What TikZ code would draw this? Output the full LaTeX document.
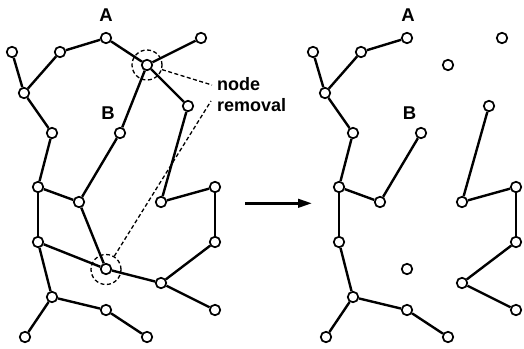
\documentclass[tikz,border=0pt]{standalone}
\usepackage{fontspec}
\setmainfont{Liberation Sans}
\usetikzlibrary{arrows.meta}
\begin{document}
\begin{tikzpicture}[x=1pt,y=-1pt,
  vert/.style={circle,draw=black,fill=white,line width=1.7pt,inner sep=0pt,minimum size=10.5pt},
  edge/.style={line width=2.4pt},
  ring/.style={circle,draw=black,dashed,dash pattern=on 4pt off 2.5pt,line width=1.3pt,inner sep=0pt,minimum size=30pt},
  pointer/.style={dashed,dash pattern=on 4pt off 2.5pt,line width=1.3pt},
  lbl/.style={font=\fontsize{18.5}{21}\selectfont\bfseries,inner sep=0pt,anchor=base},
  ann/.style={font=\fontsize{18}{21}\selectfont\bfseries,inner sep=0pt,anchor=base west},
  bigarrow/.style={line width=2.7pt,-{Triangle[length=14pt,width=8.5pt]}}]
\useasboundingbox (0,0) rectangle (524,348);
\fill[white] (0,0) rectangle (524,348);
% nodes of both graphs
\foreach \n/\x/\y in {1/12/52,2/60/52,3/106/38,4/201/38,h1/147/65,5/24/93,6/188/106,7/52/133,8/120/133,
  9/38/187,10/79/202,11/161/202,12/215/187,13/38/242,14/215/242,h2/106/269,15/161/283,
  16/52/297,17/106/310,18/215/310,19/25/337,20/147/337}{
  \node[vert] (L\n) at (\x,\y) {};
  \node[vert] (R\n) at (\x+301,\y) {};
}
% edges of the left graph
\foreach \a/\b in {1/5,5/2,2/3,3/h1,h1/4,5/7,h1/8,h1/6,7/9,8/10,6/11,11/12,12/14,9/10,9/13,10/h2,13/h2,h2/15,14/15,15/18,13/16,16/19,16/17,17/20}{
  \draw[edge] (L\a) -- (L\b);
}
% edges of the right graph (hubs removed)
\foreach \a/\b in {1/5,5/2,2/3,5/7,8/10,6/11,11/12,12/14,9/10,7/9,9/13,14/15,15/18,13/16,16/19,16/17,17/20}{
  \draw[edge] (R\a) -- (R\b);
}
% removal marks
\node[ring] (c1) at (147,65) {};
\node[ring] (c2) at (106,269.5) {};
\coordinate (t1) at (212,85);
\coordinate (t2) at (211,101);
\draw[pointer] (c1) -- (t1);
\draw[pointer] (c2) -- (t2);
\node[ann] (tnode) at (217,90.5) {node};
\node[ann] (trem) at (217,111.5) {removal};
% labels
\node[lbl] (LA) at (106,21) {A};
\node[lbl] (LB) at (108,119) {B};
\node[lbl] (RA) at (408,21) {A};
\node[lbl] (RB) at (409.5,119.5) {B};
% arrow
\coordinate (a1) at (245,203.3);
\coordinate (a2) at (312,203.3);
\draw[bigarrow] (a1) -- (a2);
\end{tikzpicture}
\end{document}
